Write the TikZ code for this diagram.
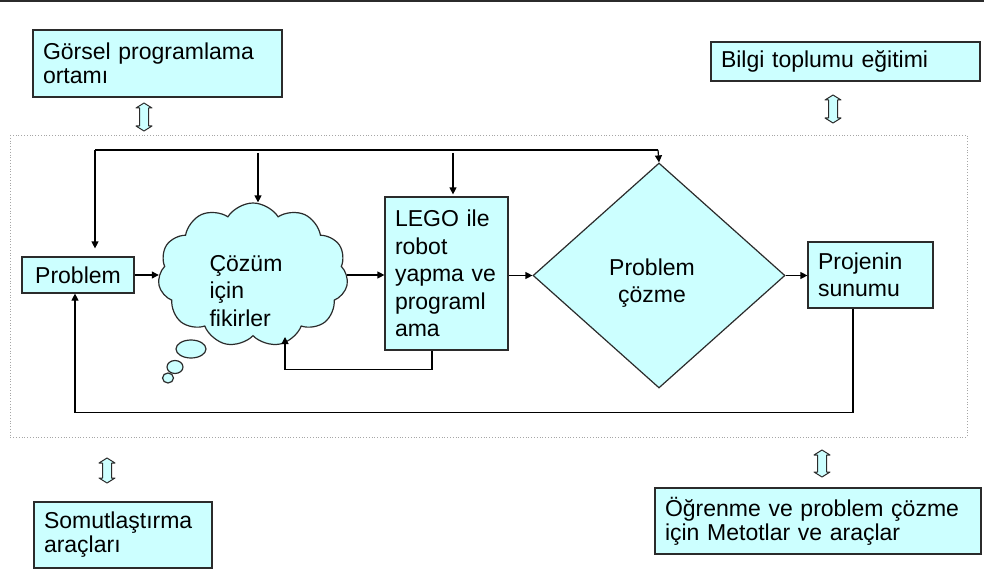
\documentclass[tikz,border=0pt]{standalone}
\usepackage{fontspec}
\setmainfont{Liberation Sans}
\usetikzlibrary{shapes.geometric,shapes.symbols,arrows.meta}
\definecolor{cfill}{HTML}{CCFFFF}
\definecolor{bdr}{HTML}{2B2B2B}
\newcommand\fsA{\fontsize{23}{24}\selectfont}
\newcommand\fsB{\fontsize{23}{27.5}\selectfont}
\newcommand\dblarr[3]{%
  \filldraw[fill=cfill, draw=bdr, line width=1pt, line join=round]
    (#1-4.5,#2+5) -- (#1-8,#2+5) -- (#1,#2) -- (#1+8,#2+5) -- (#1+4.5,#2+5)
    -- (#1+4.5,#3-5) -- (#1+8,#3-5) -- (#1,#3) -- (#1-8,#3-5) -- (#1-4.5,#3-5) -- cycle;}
\begin{document}
\begin{tikzpicture}[x=1pt,y=-1pt,
  box/.style={draw=bdr, fill=cfill, line width=1.2pt, inner xsep=10pt, inner ysep=0pt, align=left, font=\fsA},
  ibox/.style={box, font=\fsB},
  conn/.style={line width=1.2pt, black},
  arr/.style={conn, -{Triangle[length=7pt,width=7pt]}},
  bubble/.style={ellipse, draw=bdr, fill=cfill, line width=1.2pt, inner sep=0pt}]
\useasboundingbox (0,0) rectangle (984,572);
\fill[white] (0,0) rectangle (984,572);
\draw[bdr, line width=2pt] (0,1) -- (984,1);
\draw[gray!70, dotted, line width=0.8pt] (10,135) rectangle (967,437);

% outer boxes
\node[box, text width=229pt, minimum height=67pt] (gorsel) at (157.5,63.5) {Görsel programlama\\ortamı};
\node[box, text width=249pt, minimum height=39pt] (bilgi) at (845.5,61.5) {Bilgi toplumu eğitimi};
\node[box, text width=158pt, minimum height=66pt] (somut) at (123,535) {Somutlaştırma\\araçları};
\node[box, text width=306pt, minimum height=66pt] (ogren) at (818,521) {Öğrenme ve problem çözme\\için Metotlar ve araçlar};

% double arrows
\dblarr{144}{103}{131}
\dblarr{833}{95}{123}
\dblarr{107}{458}{483}
\dblarr{822}{450}{477}

% flow nodes
\node[box, align=center, text width=92pt, minimum height=36pt] (problem) at (78,275) {Problem};
\node[cloud, cloud puffs=11, cloud puff arc=115, cloud ignores aspect, minimum width=190pt, minimum height=144pt, draw=bdr, fill=cfill, line width=1.2pt] (cloud) at (253,275) {};
\node[bubble, minimum width=30pt, minimum height=18pt] (b1) at (191,349) {};
\node[bubble, minimum width=16pt, minimum height=13pt] (b2) at (175,367) {};
\node[bubble, minimum width=11pt, minimum height=10pt] (b3) at (168,378) {};
\node[align=left, font=\fsB, inner sep=0pt] (cloudtxt) at (246,291) {Çözüm\\için\\fikirler};
\node[ibox, text width=103pt, minimum height=153pt] (lego) at (446.5,273.5) {LEGO ile\\robot\\yapma ve\\programl\\ama};
\node[diamond, draw=bdr, fill=cfill, line width=1.2pt, minimum width=252pt, minimum height=225pt, inner sep=0pt] (dia) at (659,275.5) {};
\node[align=center, font=\fsB, inner sep=0pt] (diatxt) at (652,283) {Problem\\çözme};
\node[ibox, text width=105pt, minimum height=66pt] (proj) at (870.5,275) {Projenin\\sunumu};

% top feedback
\coordinate (tl) at (95,150);
\coordinate (tr) at (658,150);
\coordinate (c1) at (258,153);
\coordinate (c2) at (453,153);
\draw[conn] (tl) -- (tr);
\draw[arr, shorten >=8pt] (tl) -- (tl |- problem.north);
\draw[arr] (c1) -- (c1 |- cloud.north);
\draw[arr, shorten >=2pt] (c2) -- (c2 |- lego.north);
\draw[arr] (tr) -- (dia.north);

% main flow
\draw[arr] (problem.east) -- (problem.east -| cloud.west);
\draw[arr] (cloud.east) -- (cloud.east -| lego.west);
\draw[arr] (lego.east |- dia.west) -- (dia.west);
\draw[arr] (dia.east) -- (dia.east -| proj.west);

% lower feedback
\coordinate (cfb) at (285,337);
\draw[arr] ([xshift=-14.5pt]lego.south) -- ++(0,19) -| (cfb);
\draw[arr] ([xshift=-17.5pt]proj.south) -- ++(0,104) -| ([xshift=-3pt]problem.south);
\end{tikzpicture}
\end{document}
